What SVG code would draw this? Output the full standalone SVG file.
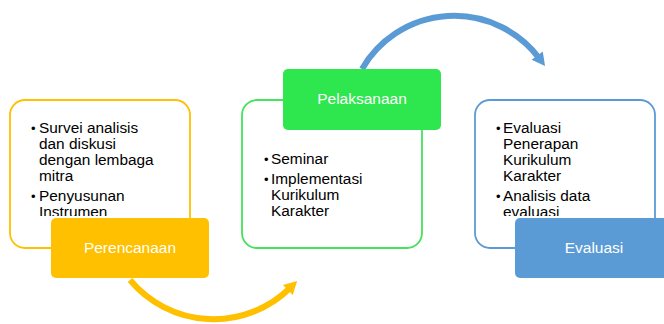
<svg xmlns="http://www.w3.org/2000/svg" width="664" height="324" viewBox="0 0 664 324">
<style>
.t{font-family:"Liberation Sans",Arial,sans-serif;font-size:15.4px;fill:#000}
.b{font-family:"Liberation Sans",Arial,sans-serif;font-size:13px;fill:#000}
.lbl{font-family:"Liberation Sans",Arial,sans-serif;font-size:15.5px;fill:#fff;text-anchor:middle}
.box{fill:#fff;fill-opacity:0.92;stroke-width:1.8}
</style>
<defs>
<marker id="ao" markerUnits="userSpaceOnUse" markerWidth="20" markerHeight="20" refX="3" refY="0" viewBox="-2 -10 20 20" orient="auto"><path d="M0,-7 L13,0 L0,7 z" fill="#FFC000"/></marker>
<marker id="ab" markerUnits="userSpaceOnUse" markerWidth="20" markerHeight="20" refX="3" refY="0" viewBox="-2 -10 20 20" orient="auto"><path d="M0,-7 L13,0 L0,7 z" fill="#5B9BD5"/></marker>
<clipPath id="c1"><rect x="10" y="100" width="180" height="116"/></clipPath>
<clipPath id="c3"><rect x="475" y="100" width="180" height="116"/></clipPath>
</defs>
<g id="connectors" fill="none" stroke-width="6">
<path d="M130,280 A109,109 0 0 0 290,288" stroke="#FFC000" marker-end="url(#ao)"/>
<path d="M362,69 A106.5,106.5 0 0 1 539,58" stroke="#5B9BD5" marker-end="url(#ab)"/>
</g>
<g id="perencanaan">
<rect class="box" x="10" y="100" width="180" height="148" rx="15" stroke="#FFC000"/>
<g clip-path="url(#c1)">
<text class="b" x="31" y="133">•</text><text class="t" x="39" y="133">Survei analisis</text>
<text class="t" x="39" y="149">dan diskusi</text>
<text class="t" x="39" y="165">dengan lembaga</text>
<text class="t" x="39" y="181">mitra</text>
<text class="b" x="31" y="201">•</text><text class="t" x="39" y="201">Penyusunan</text>
<text class="t" x="39" y="217">Instrumen</text>
</g>
<rect x="51" y="218" width="158" height="60" rx="5" fill="#FFC000"/>
<text class="lbl" x="130" y="253">Perencanaan</text>
</g>
<g id="pelaksanaan">
<rect class="box" x="242" y="100" width="180" height="148" rx="15" stroke="#45E35C"/>
<text class="b" x="264" y="164">•</text><text class="t" x="271" y="164">Seminar</text>
<text class="b" x="264" y="184">•</text><text class="t" x="271" y="184">Implementasi</text>
<text class="t" x="271" y="200">Kurikulum</text>
<text class="t" x="271" y="216">Karakter</text>
<rect x="283" y="69" width="158" height="61" rx="5" fill="#2EE64D"/>
<text class="lbl" x="362" y="104">Pelaksanaan</text>
</g>
<g id="evaluasi">
<rect class="box" x="475" y="100" width="180" height="148" rx="15" stroke="#5B9BD5"/>
<g clip-path="url(#c3)">
<text class="b" x="496" y="133">•</text><text class="t" x="503" y="133">Evaluasi</text>
<text class="t" x="503" y="149">Penerapan</text>
<text class="t" x="503" y="165">Kurikulum</text>
<text class="t" x="503" y="181">Karakter</text>
<text class="b" x="496" y="201">•</text><text class="t" x="503" y="201">Analisis data</text>
<text class="t" x="503" y="217">evaluasi</text>
</g>
<rect x="515" y="218" width="158" height="60" rx="5" fill="#5B9BD5"/>
<text class="lbl" x="594" y="253">Evaluasi</text>
</g>
</svg>
